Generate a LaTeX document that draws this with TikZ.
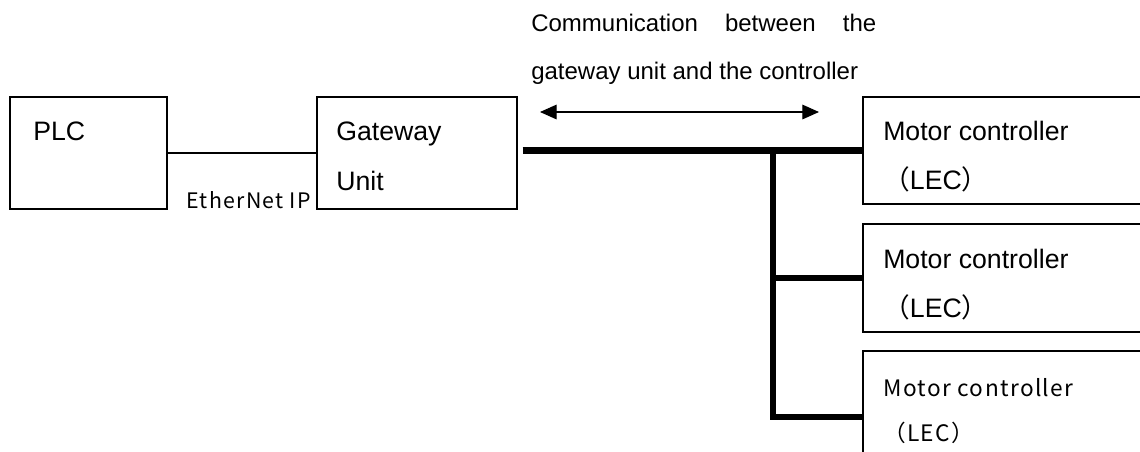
\documentclass[tikz,border=0pt]{standalone}
\usepackage{fontspec}
\setmainfont{Liberation Sans}
\newfontfamily\cjk{Noto Sans CJK JP}
\newfontfamily\gothic[LetterSpace=6]{Noto Sans CJK JP}
\usetikzlibrary{arrows.meta, calc}

\tikzset{
  box/.style={draw, line width=1.3pt, inner sep=0pt, anchor=north west},
  lbl/.style={inner sep=0pt, anchor=north west, align=left, font=\fontsize{20}{37}\selectfont},
  bus/.style={line width=5pt},
}

\begin{document}
\begin{tikzpicture}[x=0.75pt, y=-0.75pt]
  \useasboundingbox (0,0) rectangle (1140,451);
  \clip (0,0) rectangle (1140,451);
  % PLC and gateway
  \node[box, minimum width=117.75pt, minimum height=84pt] (plc) at (9,96) {};
  \node[box, minimum width=150pt, minimum height=84pt] (gw) at (316,96) {};
  \node[lbl] (plctxt) at ($(plc.north west)+(24,26)$) {PLC};
  \node[lbl] (gwtxt) at ($(gw.north west)+(20,26)$) {Gateway\\Unit};
  \draw[line width=1pt] (plc.east) -- (gw.east -| gw.west);
  \node[inner sep=0pt, anchor=base east, font=\gothic\fontsize{16}{16}\selectfont] (eip)
    at ($(gw.south west)+(-5,-1)$) {EtherNet IP};
  % motor controllers
  \node[box, minimum width=225pt, minimum height=80.25pt] (mc1) at (862,96) {};
  \node[box, minimum width=225pt, minimum height=81pt] (mc2) at (862,223) {};
  \node[box, minimum width=225pt, minimum height=99pt] (mc3) at (862,350) {};
  \node[lbl] (mctxt1) at ($(mc1.north west)+(21,25)$) {Motor controller\\{\cjk （}LEC{\cjk ）}};
  \node[lbl] (mctxt2) at ($(mc2.north west)+(21,26)$) {Motor controller\\{\cjk （}LEC{\cjk ）}};
  \node[lbl, font=\gothic\fontsize{17}{34}\selectfont] (mctxt3) at ($(mc3.north west)+(21,28)$) {Motor controller\\（LEC）};
  % bus
  \coordinate (tap) at (773,0);
  \draw[bus] ([xshift=3.75pt]gw.east |- mc1.west) -- (mc1.west);
  \draw[bus] (tap |- mc1.west) |- (mc3.west);
  \draw[bus] (tap |- mc2.west) -- (mc2.west);
  % communication
  \node[inner sep=0pt, anchor=north west, text width=258.75pt, align=justify,
    font=\fontsize{18}{36}\selectfont] (comm) at (531,14)
    {Communication between the\linebreak gateway unit and the controller};
  \coordinate (al) at (540,112);
  \coordinate (ar) at (819,112);
  \draw[{Triangle[length=12.5pt,width=11pt]}-{Triangle[length=12.5pt,width=11pt]}, line width=0.8pt] (al) -- (ar);
\end{tikzpicture}
\end{document}
